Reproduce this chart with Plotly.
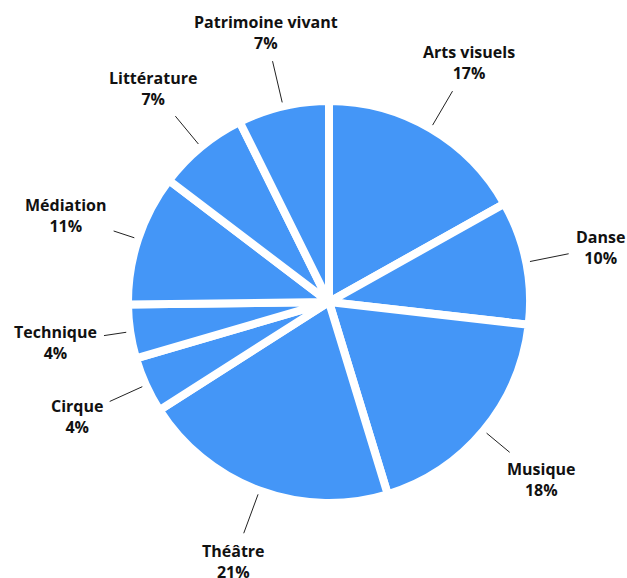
import math
import plotly.graph_objects as go

categories = ["Arts visuels", "Danse", "Musique", "Théâtre", "Cirque",
              "Technique", "Médiation", "Littérature", "Patrimoine vivant"]
# slice sizes (shares, %)
values = [16.8, 9.9, 18.4, 20.6, 4.5, 4.3, 10.5, 7.3, 7.3]
pct_labels = ["17%", "10%", "18%", "21%", "4%", "4%", "11%", "7%", "7%"]

W, H = 627, 578
CX, CY = 329, 302
R = 201  # pie radius incl. half of border
ML, MR, MT, MB = CX - R, W - (CX + R), CY - R, H - (CY + R)
S = 2 * R

fig = go.Figure(go.Pie(
    labels=categories, values=values, sort=False, direction="clockwise",
    rotation=0, textinfo="none", hoverinfo="label",
    marker=dict(colors=["#4496f7"] * len(values), line=dict(color="white", width=8)),
    showlegend=False,
))

total = sum(values)
cum = 0
annotations = []
for cat, v, p in zip(categories, values, pct_labels):
    mid = (cum + v / 2) / total * 2 * math.pi
    cum += v
    s, c = math.sin(mid), math.cos(mid)
    r_head = 205
    r_text = 277
    annotations.append(dict(
        xref="paper", yref="paper",
        x=0.5 + r_head * s / S, y=0.5 + r_head * c / S,
        ax=(r_text - r_head) * s, ay=-(r_text - r_head) * c,
        text=f"<b>{cat}<br>{p}</b>", showarrow=True, arrowhead=0,
        arrowwidth=1, arrowcolor="#222222", standoff=0, startstandoff=6,
        font=dict(family="Open Sans", size=16, color="#111111"),
        align="center",
    ))

fig.update_layout(
    width=W, height=H,
    margin=dict(l=ML, r=MR, t=MT, b=MB, autoexpand=False),
    paper_bgcolor="white", plot_bgcolor="white",
    annotations=annotations,
)
fig.write_html(
    "out.html",
    config={"displayModeBar": False},
    post_script="document.body.style.margin='0';document.body.style.overflow='hidden';",
)
